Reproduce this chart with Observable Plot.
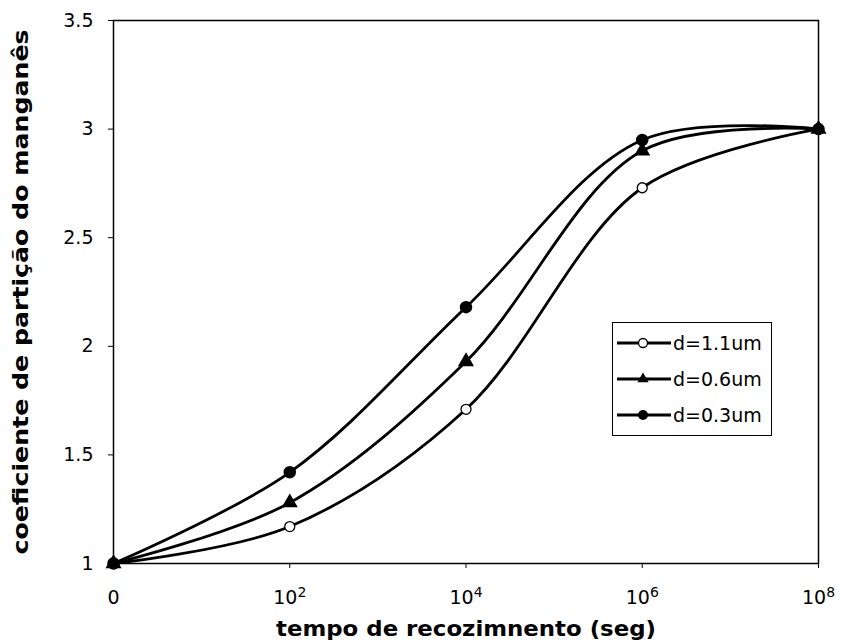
<!DOCTYPE html>
<html>
<head>
<meta charset="utf-8">
<script src="https://cdn.jsdelivr.net/npm/d3@7"></script>
<script src="https://cdn.jsdelivr.net/npm/@observablehq/plot@0.6"></script>
<style>
  body { margin: 0; background: #fff; }
  #wrap { position: relative; width: 846px; height: 643px; }
  #legend { position: absolute; left: 612px; top: 322px; width: 160px; height: 114px;
    border: 1.5px solid #000; background: #fff; font-family: "DejaVu Sans", sans-serif;
    font-size: 19px; box-sizing: border-box; }
  .item { position: absolute; left: 4px; height: 20px; display: flex; align-items: center; }
  .item svg { margin-right: 2px; }
</style>
</head>
<body>
<div id="wrap"></div>
<script>
const exponents = [0, 2, 4, 6, 8];
const tickLabels = ["0", "10²", "10⁴", "10⁶", "10⁸"];
const seriesNames = ["d=1.1um", "d=0.6um", "d=0.3um"];
const values_d11 = [1.0, 1.17, 1.71, 2.73, 3.0];
const values_d06 = [1.0, 1.28, 1.93, 2.90, 3.0];
const values_d03 = [1.0, 1.42, 2.18, 2.95, 3.0];
const yTicks = [1, 1.5, 2, 2.5, 3, 3.5];

const seriesValues = [values_d11, values_d06, values_d03];
const rows = [];
seriesNames.forEach((name, i) => {
  exponents.forEach((e, j) => rows.push({series: name, x: e, y: seriesValues[i][j]}));
});
const bySeries = name => rows.filter(r => r.series === name);

const font = '"DejaVu Sans", sans-serif';

const chart = Plot.plot({
  width: 846,
  height: 643,
  marginLeft: 113,
  marginRight: 28,
  marginTop: 20,
  marginBottom: 80,
  style: {fontFamily: font, fontSize: "19px", color: "#000", background: "#fff"},
  x: {domain: [0, 8]},
  y: {domain: [1, 3.5]},
  marks: [
    Plot.frame({stroke: "#000", strokeWidth: 1.5}),
    Plot.axisX({ticks: exponents, tickFormat: d => tickLabels[exponents.indexOf(d)],
      tickSize: 5, tickPadding: 22, fontSize: 19, label: "tempo de recozimnento (seg)", labelAnchor: "center",
      labelOffset: 72, labelArrow: "none"}),
    Plot.axisY({ticks: yTicks, tickFormat: d => String(d), tickSize: 5, tickPadding: 15, fontSize: 19,
      label: "coeficiente de partição do manganês", labelAnchor: "center", labelOffset: 100,
      labelArrow: "none"}),
    ...seriesNames.map(name => Plot.line(bySeries(name), {x: "x", y: "y", curve: "catmull-rom",
      stroke: "#000", strokeWidth: 2.8})),
    Plot.dot(bySeries("d=1.1um"), {x: "x", y: "y", symbol: "circle", r: 5, fill: "#fff", stroke: "#000", strokeWidth: 1.3}),
    Plot.dot(bySeries("d=0.6um"), {x: "x", y: "y", symbol: "triangle", r: 5, fill: "#000", stroke: "#000"}),
    Plot.dot(bySeries("d=0.3um"), {x: "x", y: "y", symbol: "circle", r: 5.5, fill: "#000", stroke: "#000"})
  ]
});

document.getElementById("wrap").appendChild(chart);

const svg = d3.select(chart);
// superscript exponents on x tick labels
svg.selectAll("[aria-label='x-axis tick label'] text").each(function() {
  const t = this.textContent;
  const sup = {"²": "2", "⁴": "4", "⁶": "6", "⁸": "8"};
  const last = t.slice(-1);
  if (sup[last]) {
    const el = d3.select(this);
    el.text("");
    el.append("tspan").text(t.slice(0, -1));
    el.append("tspan").attr("dy", "-0.5em").style("font-size", "14px").text(sup[last]);
  }
});
// axis titles: heavy, stretched
svg.selectAll("[aria-label='x-axis label'] text, [aria-label='y-axis label'] text")
  .style("font-weight", "900").style("font-size", "21px")
  .style("font-family", '"DejaVu Sans", sans-serif');
svg.select("[aria-label='x-axis label'] text").attr("textLength", 380).attr("lengthAdjust", "spacingAndGlyphs");
svg.select("[aria-label='y-axis label'] text").attr("textLength", 525).attr("lengthAdjust", "spacingAndGlyphs");

// legend
const legend = document.createElement("div");
legend.id = "legend";
const symbols = [
  '<circle cx="26" cy="10" r="4.5" fill="#fff" stroke="#000" stroke-width="1.3"/>',
  '<path d="' + d3.symbol(d3.symbolTriangle, 55)() + '" transform="translate(26,10)" fill="#000"/>',
  '<circle cx="26" cy="10" r="5" fill="#000"/>'
];
seriesNames.forEach((name, i) => {
  const it = document.createElement("div");
  it.className = "item";
  it.style.top = (10 + i * 36) + "px";
  it.innerHTML = '<svg width="54" height="20"><line x1="0" x2="54" y1="10" y2="10" stroke="#000" stroke-width="2.8"/>' +
    symbols[i] + '</svg><span>' + name + '</span>';
  legend.appendChild(it);
});
document.getElementById("wrap").appendChild(legend);
</script>
</body>
</html>
